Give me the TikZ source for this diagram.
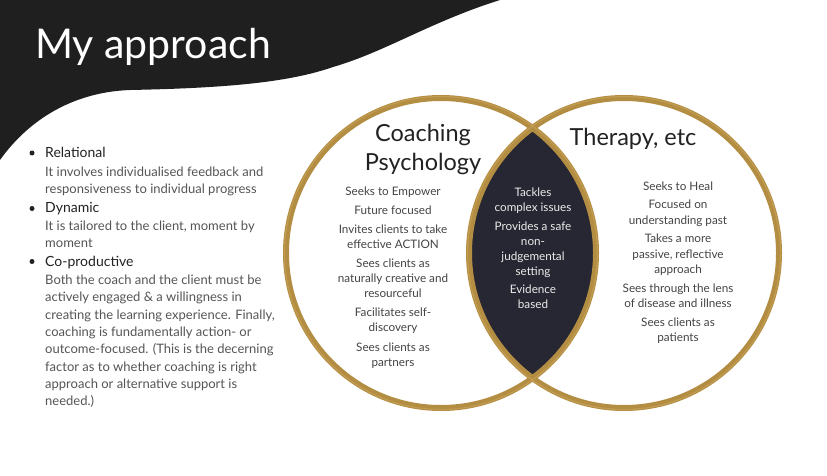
\documentclass[tikz,border=0pt]{standalone}
\usepackage{fontspec}
\setmainfont{Lato}
\definecolor{wave}{HTML}{1F1F1F}
\definecolor{gold}{HTML}{B38D42}
\definecolor{goldlight}{HTML}{CDA95E}
\definecolor{lens}{HTML}{272733}
\definecolor{ink}{HTML}{222222}
\definecolor{body}{HTML}{555555}
\definecolor{cbody}{HTML}{444444}
\tikzset{
  titletext/.style={font=\fontsize{41}{46}\selectfont, text=white, inner sep=0pt, anchor=base west},
  headtext/.style={font=\fontsize{14}{16}\selectfont, text=ink, inner sep=0pt, anchor=base west},
  bodytext/.style={font=\fontsize{13}{17.3}\selectfont, text=body, inner sep=0pt, anchor=base west, align=left},
  bulletdot/.style={circle, fill=ink, inner sep=0pt, minimum size=5pt},
  circtitle/.style={font=\fontsize{23.5}{28.3}\selectfont, text=ink, inner sep=0pt, anchor=base, align=center},
  circitem/.style={font=\fontsize{11.7}{15.3}\selectfont, text=cbody, inner sep=0pt, anchor=base, align=center},
  lensitem/.style={font=\fontsize{11.7}{15.0}\selectfont, text=white!92!black, inner sep=0pt, anchor=base, align=center},
  ring/.style={draw=gold, line width=6pt},
}
\begin{document}
\begin{tikzpicture}[x=1pt,y=-1pt]
\useasboundingbox (0,0) rectangle (827,476);
\fill[white] (0,0) rectangle (827,476);
% black wave
\fill[wave] (0,0) -- (500,0) .. controls (430,22) and (385,52) .. (333,67)
  .. controls (290,82) and (230,88) .. (130,90)
  .. controls (75,92) and (30,118) .. (0,160) -- cycle;
\node[titletext] (title) at (35,59) {My approach};

% left list (multi-line nodes are placed by the baseline of their last line)
\node[bulletdot] (d1) at (32,153) {};
\node[headtext] (h1) at (45,157.3) {Relational};
\node[bodytext] (b1) at (45,193.3) {It involves individualised feedback and\\responsiveness to individual progress};
\node[bulletdot] (d2) at (32,208.5) {};
\node[headtext] (h2) at (45,212.7) {Dynamic};
\node[bodytext] (b2) at (45,247.3) {It is tailored to the client, moment by\\moment};
\node[bulletdot] (d3) at (32,261.5) {};
\node[headtext] (h3) at (45,266) {Co-productive};
\node[bodytext] (b3) at (45,405.7) {Both the coach and the client must be\\actively engaged \& a willingness in\\creating the learning experience. Finally,\\coaching is fundamentally action- or\\outcome-focused. (This is the decerning\\factor as to whether coaching is right\\approach or alternative support is\\needed.)};

% venn
\coordinate (cl) at (441,253);
\coordinate (cr) at (624,253);
\begin{scope}
  \clip (cl) circle (155);
  \fill[lens] (cr) circle (155);
\end{scope}
\draw[ring] (cl) circle (155);
\draw[ring] (cr) circle (155);
\draw[goldlight, line width=1.2pt, opacity=0.5] (cl) circle (156.5);
\draw[goldlight, line width=1.2pt, opacity=0.5] (cr) circle (156.5);

\node[circtitle] (tl) at (423,170) {Coaching\\Psychology};
\node[circtitle] (tr) at (633,145.7) {Therapy, etc};

\node[circitem] (l1) at (393,195.7) {Seeks to Empower};
\node[circitem] (l2) at (393,214.3) {Future focused};
\node[circitem] (l3) at (393,248.7) {Invites clients to take\\effective ACTION};
\node[circitem] (l4) at (393,297.7) {Sees clients as\\naturally creative and\\resourceful};
\node[circitem] (l5) at (393,331.7) {Facilitates self-\\discovery};
\node[circitem] (l6) at (393,366.7) {Sees clients as\\partners};

\node[lensitem] (m1) at (533,211) {Tackles\\complex issues};
\node[lensitem] (m2) at (533,275) {Provides a safe\\non-\\judgemental\\setting};
\node[lensitem] (m3) at (533,308.7) {Evidence\\based};

\node[circitem] (r1) at (678,190) {Seeks to Heal};
\node[circitem] (r2) at (678,224) {Focused on\\understanding past};
\node[circitem] (r3) at (678,273.3) {Takes a more\\passive, reflective\\approach};
\node[circitem] (r4) at (678,307.3) {Sees through the lens\\of disease and illness};
\node[circitem] (r5) at (678,341.3) {Sees clients as\\patients};
\end{tikzpicture}
\end{document}
